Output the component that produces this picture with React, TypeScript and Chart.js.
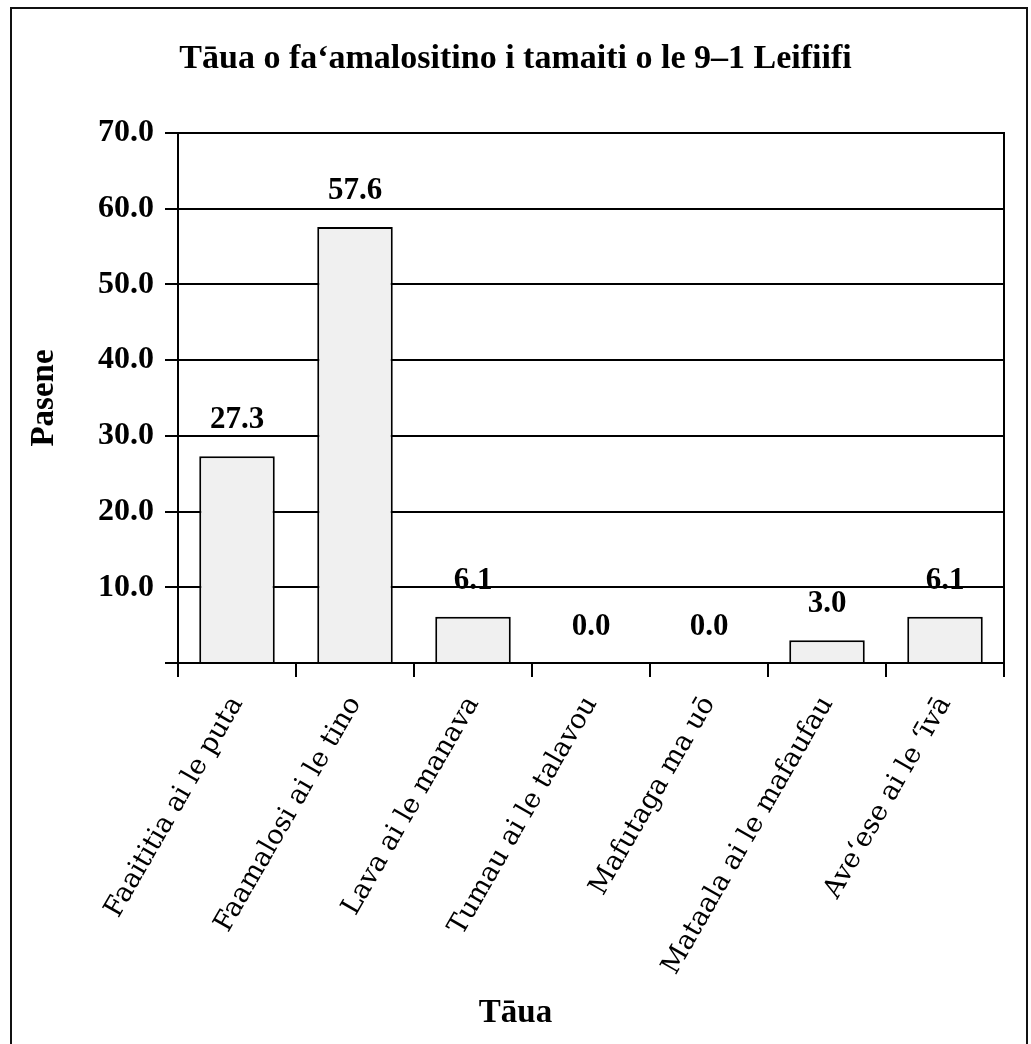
import { useEffect, useRef } from 'react';
import { Chart, registerables } from 'chart.js';

Chart.register(...registerables);

const chartTitle = 'Tāua o fa‘amalositino i tamaiti o le 9–1 Leifiifi';
const xAxisTitle = 'Tāua';
const yAxisTitle = 'Pasene';
const categories = [
  'Faaititia ai le puta',
  'Faamalosi ai le tino',
  'Lava ai le manava',
  'Tumau ai le talavou',
  'Mafutaga ma uō',
  'Mataala ai le mafaufau',
  'Ave‘ese ai le ‘īvā',
];
const values = [27.3, 57.6, 6.1, 0.0, 0.0, 3.0, 6.1];
const yMin = 0;
const yMax = 70;
const yStep = 10;

const BOLD = '"Liberation Serif", "Times New Roman", serif';
const LABEL = '"DejaVu Serif", serif';

const framePlugin = {
  id: 'frame',
  beforeDraw(chart: any) {
    const { ctx } = chart;
    ctx.save();
    ctx.fillStyle = '#ffffff';
    ctx.fillRect(0, 0, chart.width, chart.height);
    ctx.strokeStyle = '#111111';
    ctx.lineWidth = 2;
    ctx.strokeRect(11, 8, 1016, 1100);
    ctx.restore();
  },
};

const valueLabelPlugin = {
  id: 'valueLabels',
  afterDatasetsDraw(chart: any) {
    const { ctx } = chart;
    const meta = chart.getDatasetMeta(0);
    const data = chart.data.datasets[0].data as number[];
    ctx.save();
    ctx.fillStyle = '#000';
    ctx.font = `bold 31px ${BOLD}`;
    ctx.textAlign = 'center';
    ctx.textBaseline = 'middle';
    meta.data.forEach((bar: any, i: number) => {
      ctx.fillText(Number(data[i]).toFixed(1), bar.x, bar.y - 36);
    });
    ctx.restore();
  },
};

export default function App() {
  const ref = useRef<HTMLCanvasElement>(null);
  useEffect(() => {
    const chart = new Chart(ref.current as HTMLCanvasElement, {
      type: 'bar',
      data: {
        labels: categories,
        datasets: [
          {
            data: values,
            backgroundColor: '#f0f0f0',
            borderColor: '#000000',
            borderWidth: 2,
            barPercentage: 0.64,
            categoryPercentage: 1,
          },
        ],
      },
      options: {
        responsive: false,
        animation: false,
        devicePixelRatio: 1,
        layout: { padding: { top: 0, left: 0, right: 0, bottom: 0 } },
        plugins: {
          legend: { display: false },
          tooltip: { enabled: false },
          title: {
            display: true,
            text: chartTitle,
            color: '#000',
            font: { family: BOLD, size: 34, weight: 'bold', lineHeight: 1.2 },
            padding: { top: 39, bottom: 53.2 },
          },
          subtitle: {
            display: true,
            position: 'bottom',
            text: xAxisTitle,
            color: '#000',
            font: { family: BOLD, size: 33, weight: 'bold', lineHeight: 1.2 },
            padding: { top: 0, bottom: 11 },
          },
        },
        scales: {
          x: {
            offset: true,
            grid: {
              display: true,
              offset: true,
              drawOnChartArea: false,
              drawTicks: true,
              tickLength: 14,
              color: '#000',
              lineWidth: 2,
            },
            border: { display: true, color: '#000', width: 2 },
            ticks: {
              color: '#000',
              font: { family: LABEL, size: 27 },
              minRotation: 60,
              maxRotation: 60,
              autoSkip: false,
              padding: 14,
            },
            afterFit(scale: any) {
              scale.height = 993.4 - 663;
            },
          },
          y: {
            min: yMin,
            max: yMax,
            grid: {
              color: '#000',
              lineWidth: 2,
              tickLength: 13,
              drawTicks: true,
            },
            border: { display: true, color: '#000', width: 2 },
            ticks: {
              stepSize: yStep,
              color: '#000',
              font: { family: BOLD, size: 32, weight: 'bold' },
              padding: 11,
              callback: (v: any) => (Number(v) === 0 ? '' : Number(v).toFixed(1)),
            },
            title: {
              display: true,
              text: yAxisTitle,
              color: '#000',
              font: { family: BOLD, size: 33, weight: 'bold', lineHeight: 1.2 },
              padding: { top: 25, bottom: 0 },
            },
            afterFit(scale: any) {
              scale.width = 178;
            },
          },
          y2: {
            position: 'right',
            display: true,
            grid: { display: false },
            border: { display: true, color: '#000', width: 2 },
            ticks: { display: false },
            afterFit(scale: any) {
              scale.width = 27;
            },
          },
        },
      },
      plugins: [framePlugin, valueLabelPlugin],
    } as any);
    return () => chart.destroy();
  }, []);
  return (
    <div style={{ position: 'absolute', left: 0, top: 0, width: 1031, height: 1044 }}>
      <canvas ref={ref} width={1031} height={1044} />
    </div>
  );
}
